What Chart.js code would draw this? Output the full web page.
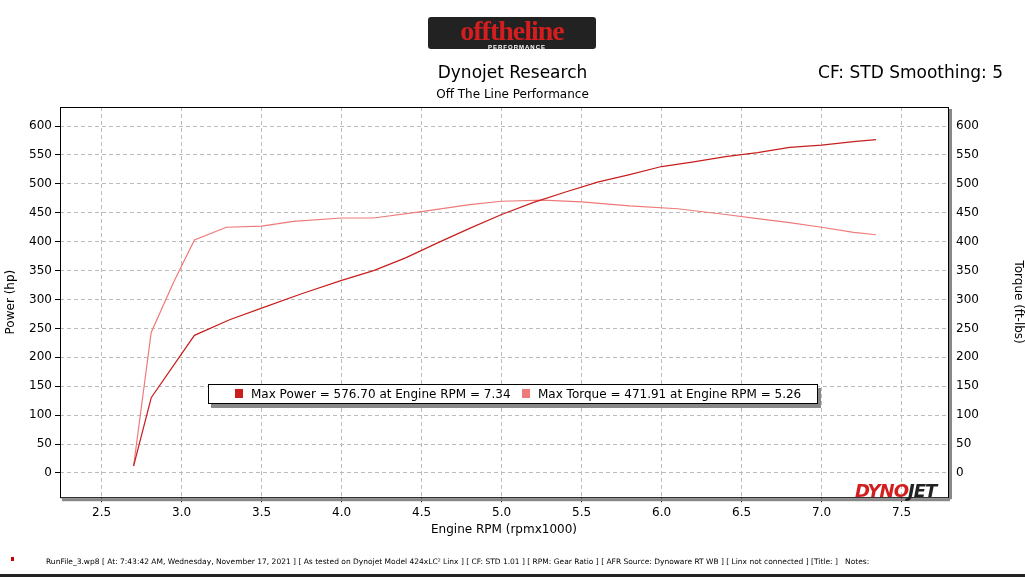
<!DOCTYPE html>
<html><head><meta charset="utf-8">
<script src="https://cdn.jsdelivr.net/npm/chart.js@4"></script>
<style>
body{margin:0;background:#fff;font-family:"DejaVu Sans",sans-serif;}
#wrap{position:relative;width:1025px;height:577px;}
#logo{position:absolute;left:428px;top:17px;width:168px;height:32px;background:#222;border-radius:3px;text-align:center;color:#d21e1e;font:bold 28px "Liberation Serif";line-height:28px;letter-spacing:-1px}
#logo small{position:absolute;left:60px;top:27px;font:bold 6px sans-serif;color:#fff;letter-spacing:1px}
#t1{position:absolute;left:0;width:1025px;top:62px;text-align:center;font-size:17px;}
#t2{position:absolute;left:0;width:1025px;top:87px;text-align:center;font-size:12px;}
#cf{position:absolute;right:22px;top:62px;font-size:17px;}
#leg{position:absolute;left:208px;top:384px;width:608px;height:18px;border:1px solid #000;background:#fff;font-size:12px;box-shadow:3px 4px 0 #888;}
#leg span{position:absolute;top:2px}
.sw{display:inline-block;width:8px;height:9px;margin-right:8px}
#foot{position:absolute;left:46px;top:557px;font-size:7.5px;}
#dot{position:absolute;left:11px;top:557px;width:3px;height:4px;background:#c00}
#dj{position:absolute;left:855px;top:480px;font:italic bold 18px "DejaVu Sans";color:#d21e1e;letter-spacing:-1px}
#dj b{color:#222}
#line{position:absolute;left:0;top:574px;width:1025px;height:3px;background:#222}
</style></head><body>
<div id="wrap">
<canvas id="c" width="1025" height="577"></canvas>
<div id="logo">offtheline<small>PERFORMANCE</small></div>
<div id="t1">Dynojet Research</div>
<div id="t2">Off The Line Performance</div>
<div id="cf">CF: STD Smoothing: 5</div>
<div id="leg"><span style="left:26px"><i class="sw" style="background:#c81e1e"></i>Max Power = 576.70 at Engine RPM = 7.34</span><span style="left:313px"><i class="sw" style="background:#ef7a7a"></i>Max Torque = 471.91 at Engine RPM = 5.26</span></div>
<div id="dj">DYNO<b>JET</b></div>
<div id="dot"></div>
<div id="foot">RunFile_3.wp8 [ At: 7:43:42 AM, Wednesday, November 17, 2021 ] [ As tested on Dynojet Model 424xLC² Linx ] [ CF: STD 1.01 ] [ RPM: Gear Ratio ] [ AFR Source: Dynoware RT WB ] [ Linx not connected ] [Title: ]&nbsp;&nbsp; Notes:</div>
<div id="line"></div>
</div>
<script>
var powerRpm = [2.70,2.81,3.08,3.3,3.5,3.75,4.0,4.2,4.4,4.6,4.8,5.0,5.2,5.4,5.6,5.8,6.0,6.2,6.4,6.6,6.8,7.0,7.2,7.34];
var powerHp = [12,130,238,265,285,310,333,350,372,398,423,447,468,486,503,516,530,538,547,554,563,567,573,576.7];
var torqueRpm = [2.70,2.81,2.95,3.08,3.28,3.5,3.7,4.0,4.2,4.5,4.8,5.0,5.26,5.5,5.8,6.1,6.4,6.6,6.8,7.0,7.2,7.34];
var torqueFtlb = [12,243,330,403,425,427,435,441,441,452,464,470,471.9,469,462,457,447,440,433,425,416,412];
var xTicks = [2.5,3.0,3.5,4.0,4.5,5.0,5.5,6.0,6.5,7.0,7.5];

function pts(xs, ys) { return xs.map(function (x, i) { return {x: x, y: ys[i]}; }); }

var tickFont = {family: "DejaVu Sans", size: 12};
var border = {
  id: 'border',
  afterDraw: function (chart) {
    var a = chart.chartArea, ctx = chart.ctx;
    ctx.save();
    ctx.strokeStyle = '#000'; ctx.lineWidth = 1;
    ctx.strokeRect(a.left + 0.5, a.top + 0.5, a.right - a.left, a.bottom - a.top);
    ctx.fillStyle = '#888';
    ctx.fillRect(a.left + 2, a.bottom + 1, a.right - a.left, 3);
    ctx.fillRect(a.right + 1, a.top + 2, 3, a.bottom - a.top);
    ctx.restore();
  }
};

new Chart(document.getElementById('c'), {
  type: 'scatter',
  data: {
    datasets: [
      {label: 'Power', data: pts(powerRpm, powerHp), showLine: true, borderColor: '#c81e1e', borderWidth: 1.2, pointRadius: 0, yAxisID: 'y'},
      {label: 'Torque', data: pts(torqueRpm, torqueFtlb), showLine: true, borderColor: '#ef7a7a', borderWidth: 1.2, pointRadius: 0, yAxisID: 'y2'}
    ]
  },
  options: {
    responsive: false, animation: false,
    layout: {padding: {left: 4, right: 0, top: 107, bottom: 40}},
    plugins: {legend: {display: false}, tooltip: {enabled: false}},
    scales: {
      x: {
        type: 'linear', min: 2.24, max: 7.79,
        afterBuildTicks: function (s) { s.ticks = xTicks.map(function (v) { return {value: v}; }); },
        ticks: {font: tickFont, color: '#000', callback: function (v) { return v.toFixed(1); }},
        grid: {color: '#bbb', tickColor: '#000', tickLength: 5},
        border: {dash: [4, 3], display: false},
        title: {display: true, text: 'Engine RPM (rpmx1000)', font: tickFont, color: '#000', padding: 0}
      },
      y: {
        min: -42, max: 633,
        afterBuildTicks: function (s) { var t = []; for (var v = 0; v <= 600; v += 50) t.push({value: v}); s.ticks = t; },
        ticks: {font: tickFont, color: '#000'},
        grid: {color: '#bbb', tickColor: '#000', tickLength: 5},
        border: {dash: [4, 3], display: false},
        afterFit: function (s) { s.width = 56; },
        title: {display: true, text: 'Power (hp)', font: tickFont, color: '#000', padding: 0}
      },
      y2: {
        position: 'right', min: -42, max: 633,
        afterBuildTicks: function (s) { var t = []; for (var v = 0; v <= 600; v += 50) t.push({value: v}); s.ticks = t; },
        ticks: {font: tickFont, color: '#000'},
        grid: {display: false, tickColor: '#000', tickLength: 5},
        afterFit: function (s) { s.width = 77; },
        title: {display: true, text: 'Torque (ft-lbs)', font: tickFont, color: '#000', padding: 0}
      }
    }
  },
  plugins: [border]
});
</script>
</body></html>
